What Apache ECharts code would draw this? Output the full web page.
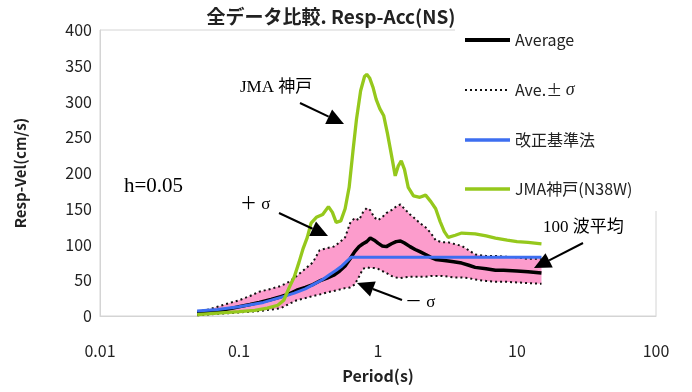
<!DOCTYPE html>
<html><head><meta charset="utf-8">
<script src="https://cdn.jsdelivr.net/npm/echarts@6/dist/echarts.min.js"></script>
<style>html,body{margin:0;padding:0;background:#fff}#c{width:692px;height:392px}</style>
</head><body><div id="c"></div>
<script>
// Periods (s) shared by Average and ±σ
const periods = [0.05,0.06,0.07,0.085,0.1,0.12,0.14,0.17,0.2,0.23,0.26,0.3,0.34,0.38,0.43,0.48,0.53,0.58,0.63,0.68,0.73,0.78,0.83,0.88,0.94,1.0,1.07,1.15,1.25,1.35,1.45,1.55,1.7,1.85,2.0,2.2,2.4,2.6,2.9,3.2,3.5,4.0,4.5,5.0,6.0,7.0,8.0,10,12,15];
const average = [3,5,7,10,13,16,19,23,27,31,36,40,44,49,53,57,63,70,80,90,97,101,104,109,106,102,98,97,101,104,105,102,97,93,90,86,82,79,78,77,76,74,71,68,66,64,64,63,62,60];
const upperSigma = [6,9,13,18,22,28,34,38,42,48,56,66,75,92,95,97,103,110,130,137,134,145,151,148,138,134,138,144,148,153,156,150,142,136,130,124,116,106,103,103,101,98,92,86,84,84,83,82,80,80];
const lowerSigma = [1,2,3,4,5,6,7,9,11,17,22,25,28,30,33,35,37,39,40,44,55,66,68,67,67,66,63,60,56,54,53,54,55,55,55,55,56,56,56,55,54,54,53,51,49,48,48,47,46,45];
// 改正基準法
const codePeriods = [0.05,0.07,0.1,0.15,0.2,0.25,0.3,0.35,0.4,0.45,0.5,0.55,0.6,0.64,15];
const codeValues = [7,9,13,19,26,32,38,45,51,58,64,70,77,82,82];
// JMA神戸(N38W)
const jmaPeriods = [0.05,0.07,0.1,0.13,0.16,0.19,0.21,0.23,0.25,0.27,0.29,0.31,0.33,0.36,0.4,0.44,0.47,0.5,0.54,0.58,0.62,0.66,0.7,0.75,0.8,0.83,0.87,0.92,0.97,1.03,1.1,1.17,1.25,1.33,1.4,1.47,1.55,1.65,1.8,2.0,2.2,2.4,2.6,2.8,3.0,3.2,3.6,4.0,5.0,6.0,7.0,8.5,10,12,15];
const jmaValues = [2,4,6,8,11,15,22,40,55,75,95,110,130,138,142,153,145,131,133,150,180,230,275,315,335,338,333,320,303,290,280,255,225,196,210,217,205,180,168,166,169,160,150,132,118,110,113,116,115,112,109,106,104,103,101];
const xTicks = [0.01,0.1,1,10,100];
const yTicks = [0,50,100,150,200,250,300,350,400];
const legendNames = ['Average','Ave.±σ','改正基準法','JMA神戸(N38W)'];
const legendLineWidths = [4, 2, 3.5, 3.5];

const zip = (xs, ys) => xs.map((x, i) => [x, ys[i]]);
const SANS = '"Noto Sans CJK JP","Noto Sans",sans-serif';
const SERIF = '"Liberation Serif","DejaVu Serif","Noto Sans CJK JP",serif';

function arrow(x1, y1, x2, y2) {
  const dx = x2 - x1, dy = y2 - y1, L = Math.hypot(dx, dy), ux = dx / L, uy = dy / L;
  const hl = 17, hw = 8;
  const bx = x2 - ux * hl, by = y2 - uy * hl;
  return [
    {type: 'line', shape: {x1, y1, x2: bx, y2: by}, style: {stroke: '#000', lineWidth: 2}, z: 100},
    {type: 'polygon', shape: {points: [[x2, y2], [bx - uy * hw, by + ux * hw], [bx + uy * hw, by - ux * hw]]}, style: {fill: '#000'}, z: 100}
  ];
}
function label(text, x, y, size, font) {
  return {type: 'text', x, y, z: 100, style: {text, fill: '#000', font: size + 'px ' + font, textVerticalAlign: 'middle'}};
}

const chart = echarts.init(document.getElementById('c'));
chart.setOption({
  animation: false,
  grid: {left: 100, right: 36, top: 30, bottom: 76, show: true, borderColor: '#d4d4d4', borderWidth: 1},
  xAxis: {
    type: 'log', logBase: 10, min: 0.01, max: 100,
    name: 'Period(s)', nameLocation: 'middle', nameGap: 52,
    nameTextStyle: {fontFamily: SANS, fontSize: 16, color: '#222', fontWeight: 'bold'},
    axisLine: {show: true, lineStyle: {color: '#d4d4d4'}},
    axisTick: {show: false}, splitLine: {show: false},
    axisLabel: {margin: 27, fontFamily: SANS, fontSize: 16, color: '#222',
      formatter: v => { const t = xTicks.find(k => Math.abs(k - v) / k < 1e-6); return t === undefined ? '' : String(t); }}
  },
  yAxis: {
    type: 'value', min: yTicks[0], max: yTicks[yTicks.length - 1], interval: 50,
    name: 'Resp-Vel(cm/s)', nameLocation: 'middle', nameGap: 72,
    nameTextStyle: {fontFamily: SANS, fontSize: 15, color: '#222', fontWeight: 'bold'},
    axisLine: {show: true, lineStyle: {color: '#d4d4d4'}},
    axisTick: {show: false}, splitLine: {show: false},
    axisLabel: {margin: 8, fontFamily: SANS, fontSize: 16, color: '#222'}
  },
  legend: {
    data: legendNames.map((n, i) => ({name: n, lineStyle: {width: legendLineWidths[i]}})),
    orient: 'vertical', left: 455, top: 22,
    padding: [10, 60, 14, 8], itemGap: 33, itemWidth: 45, itemHeight: 16,
    backgroundColor: '#fff', z: 20,
    itemStyle: {color: 'rgba(0,0,0,0)', borderColor: 'rgba(0,0,0,0)', borderWidth: 0, opacity: 0},
    textStyle: {fontFamily: SANS, fontSize: 16, color: '#222',
      rich: {s: {fontFamily: SERIF, fontStyle: 'italic', fontSize: 18, color: '#222'}}},
    formatter: name => name === 'Ave.±σ' ? 'Ave.± {s|σ}' : name
  },
  graphic: [
    {type: 'text', x: 331, y: 17, z: 100, style: {text: '全データ比較. Resp-Acc(NS)', fill: '#222', font: 'bold 19px ' + SANS, textAlign: 'center', textVerticalAlign: 'middle'}},
    label('JMA 神戸', 240, 88, 17, SERIF),
    label('h=0.05', 124, 186, 21, SERIF),
    label('＋ σ', 240, 205, 17, SERIF),
    label('－ σ', 405, 303, 17, SERIF),
    label('100 波平均', 543, 228, 17, SERIF),
    ...arrow(300, 103, 344, 124),
    ...arrow(279, 213, 328, 236),
    ...arrow(402, 300, 357, 283),
    ...arrow(583, 243, 534, 268)
  ],
  series: [
    {
      type: 'custom', name: 'band', silent: true, z: 1,
      data: [[periods[0], lowerSigma[0]]], encode: {x: 0, y: 1},
      renderItem: (params, api) => {
        if (params.dataIndex !== 0) return null;
        const pts = periods.map((p, i) => api.coord([p, upperSigma[i]]));
        for (let i = periods.length - 1; i >= 0; i--) pts.push(api.coord([periods[i], lowerSigma[i]]));
        return {type: 'polygon', shape: {points: pts}, style: {fill: '#fc9ccc'}};
      }
    },
    {name: 'Ave.±σ', type: 'line', symbol: 'none', z: 3, data: zip(periods, upperSigma), lineStyle: {color: '#111', width: 2, type: [2, 3]}, itemStyle: {color: '#111'}},
    {name: 'Ave.±σ', type: 'line', symbol: 'none', z: 3, data: zip(periods, lowerSigma), lineStyle: {color: '#111', width: 2, type: [2, 3]}, itemStyle: {color: '#111'}},
    {name: 'Average', type: 'line', symbol: 'none', z: 4, data: zip(periods, average), lineStyle: {color: '#000', width: 3.5}, itemStyle: {color: '#000'}},
    {name: '改正基準法', type: 'line', symbol: 'none', z: 5, data: zip(codePeriods, codeValues), lineStyle: {color: '#3d6ef0', width: 3}, itemStyle: {color: '#3d6ef0'}},
    {name: 'JMA神戸(N38W)', type: 'line', symbol: 'none', z: 6, data: zip(jmaPeriods, jmaValues), lineStyle: {color: '#95c81c', width: 3.3}, itemStyle: {color: '#95c81c'}}
  ]
});
</script></body></html>
